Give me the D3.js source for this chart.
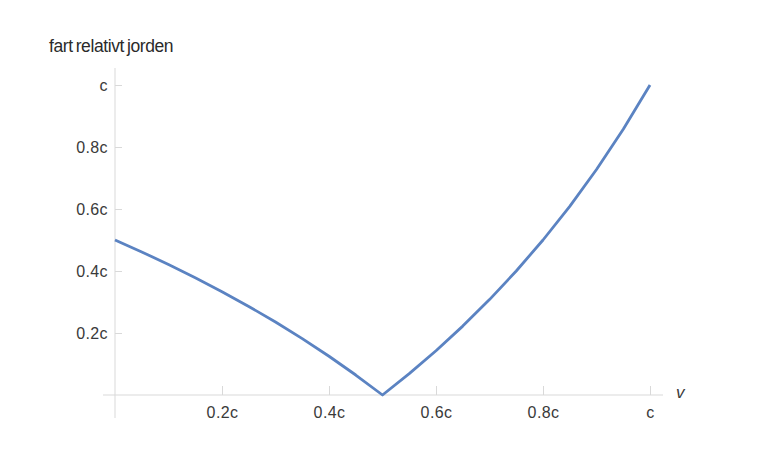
<!DOCTYPE html>
<html><head><meta charset="utf-8">
<script src="https://cdn.jsdelivr.net/npm/d3@7"></script>
<style>
html,body{margin:0;padding:0;background:#fff;}
svg{display:block;}
text{font-family:"Liberation Sans",Arial,sans-serif;}
</style></head>
<body>
<svg id="chart" width="760" height="456"></svg>
<script>
const vValues = [0,0.05,0.1,0.15,0.2,0.25,0.3,0.35,0.4,0.45,0.5,0.55,0.6,0.65,0.7,0.75,0.8,0.85,0.9,0.95,1];
const speedValues = [0.5,0.4615,0.4211,0.3784,0.3333,0.2857,0.2353,0.1818,0.125,0.0645,0,0.069,0.1429,0.2222,0.3077,0.4,0.5,0.6087,0.7273,0.8571,1];
const xTicks = [0.2,0.4,0.6,0.8,1];
const xTickLabels = ["0.2c","0.4c","0.6c","0.8c","c"];
const yTicks = [0.2,0.4,0.6,0.8,1];
const yTickLabels = ["0.2c","0.4c","0.6c","0.8c","c"];
const yTitle = "fart relativt jorden";
const xTitle = "v";

const svg = d3.select("#chart");
const x = d3.scaleLinear().domain([0,1]).range([115,650]);
const y = d3.scaleLinear().domain([0,1]).range([395,85]);
const axisColor = "#d9d9d9";
const textColor = "#3a3a3a";

// axis lines
svg.append("line").attr("x1",103).attr("x2",663).attr("y1",y(0)).attr("y2",y(0))
  .attr("stroke",axisColor).attr("stroke-width",1);
svg.append("line").attr("x1",x(0)).attr("x2",x(0)).attr("y1",68).attr("y2",418)
  .attr("stroke",axisColor).attr("stroke-width",1);

// x ticks
const xAxis = d3.axisBottom(x).tickValues(xTicks).tickSize(-9).tickPadding(12)
  .tickFormat((d,i)=>xTickLabels[i]);
const gx = svg.append("g").attr("transform",`translate(0,${y(0)})`).call(xAxis);
gx.select(".domain").remove();
gx.selectAll(".tick line").attr("stroke",axisColor);
gx.selectAll(".tick text").attr("fill",textColor).attr("font-size",16).attr("letter-spacing","0.4");

// y ticks
const yAxis = d3.axisLeft(y).tickValues(yTicks).tickSize(-7).tickPadding(7)
  .tickFormat((d,i)=>yTickLabels[i]);
const gy = svg.append("g").attr("transform",`translate(${x(0)},0)`).call(yAxis);
gy.select(".domain").remove();
gy.selectAll(".tick line").attr("stroke",axisColor);
gy.selectAll(".tick text").attr("fill",textColor).attr("font-size",16).attr("letter-spacing","0.4");

// titles
svg.append("text").attr("x",49).attr("y",52).attr("font-size",17.5)
  .attr("letter-spacing","-0.4").attr("word-spacing","-1.5").attr("fill","#2a2a2a").text(yTitle);
svg.append("text").attr("x",676).attr("y",398).attr("font-size",17)
  .attr("font-style","italic").attr("fill","#3a3a3a").text(xTitle);

// curve
const data = vValues.map((v,i)=>({v, s:speedValues[i]}));
svg.append("path").datum(data)
  .attr("d", d3.line().x(d=>x(d.v)).y(d=>y(d.s)))
  .attr("fill","none").attr("stroke","#5b83c2").attr("stroke-width",2.8)
  .attr("stroke-linejoin","round");
</script>
</body></html>
